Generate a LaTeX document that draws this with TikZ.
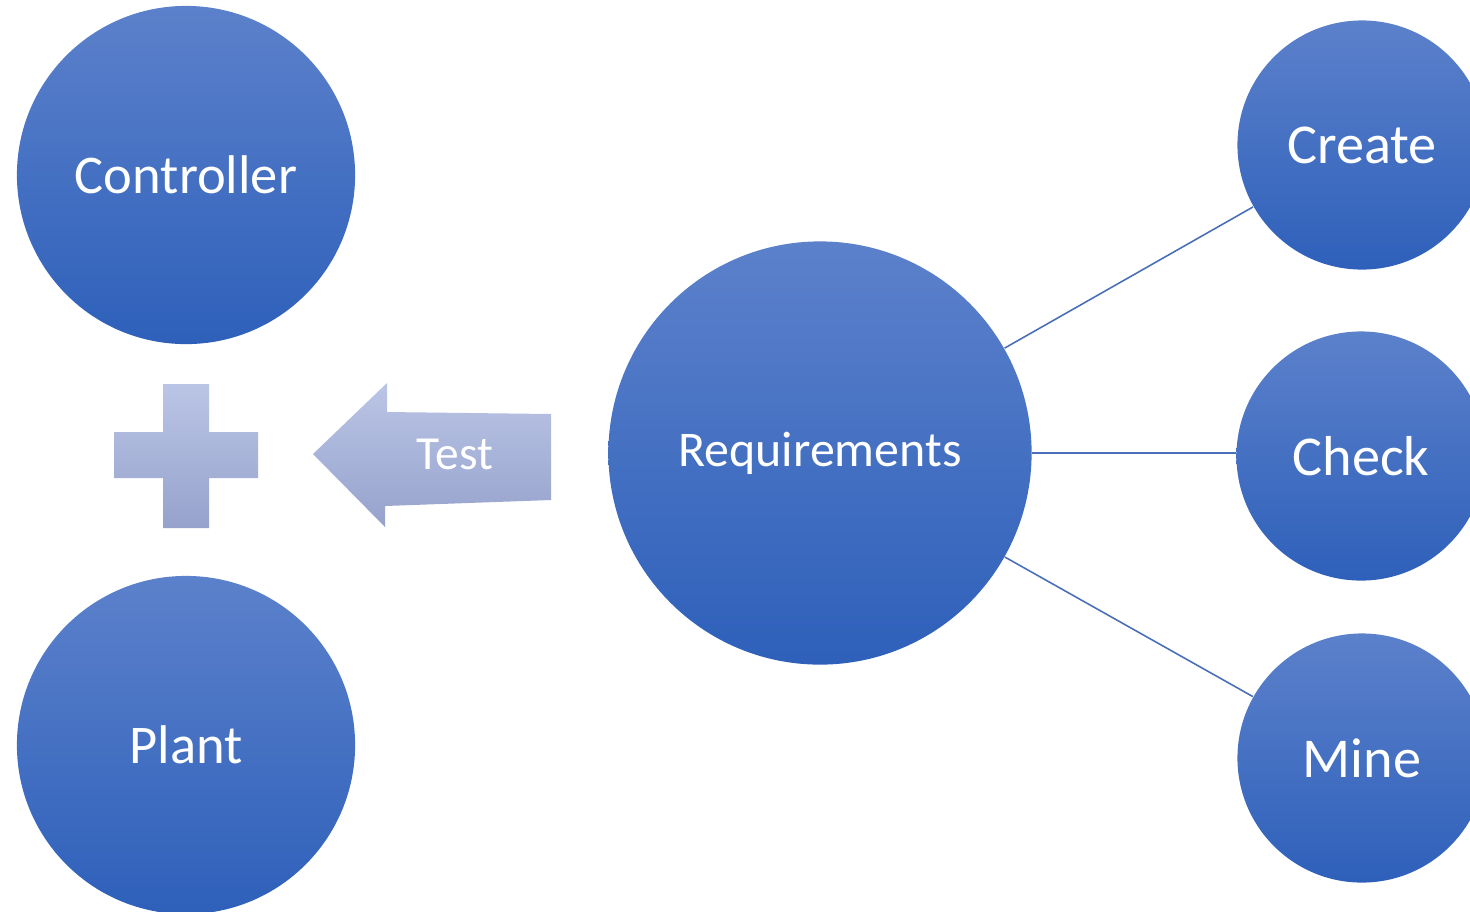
\documentclass[tikz,border=0pt]{standalone}
\usepackage{fontspec}
\setmainfont{Carlito}
\usepackage{tikz}
\usetikzlibrary{positioning}
\definecolor{blobtop}{HTML}{5C81CB}
\definecolor{blobbot}{HTML}{2E60BA}
\definecolor{palettop}{HTML}{BAC5E6}
\definecolor{palebot}{HTML}{96A2CC}
\definecolor{linkblue}{HTML}{4A6FB8}

\begin{document}
\begin{tikzpicture}[
x=0.01cm, y=-0.01cm,
blob/.style={circle, inner sep=0pt, top color=blobtop, bottom color=blobbot, draw=none, text=white},
big/.style={blob, minimum size=3.38cm, font=\fontsize{15.5}{18}\selectfont},
small/.style={blob, minimum size=2.49cm, font=\fontsize{16}{19}\selectfont},
link/.style={draw=linkblue, line width=0.45pt},
pale/.style={draw=none, top color=palettop, bottom color=palebot}
]
    \useasboundingbox (0,0) rectangle (1470,911);
    \clip (0,0) rectangle (1470,911);

    % Left side: the two parts under test
    \node[big] (ctrl) at (186,175) {Controller};
    \node[big] (plant) at (186,745) {Plant};

    % Plus sign between them
    \path[pale] (163,384) -- (209,384) -- (209,432) -- (258,432) -- (258,478)
        -- (209,478) -- (209,528) -- (163,528) -- (163,478) -- (114,478)
        -- (114,432) -- (163,432) -- cycle;

    % Block arrow pointing left
    \path[pale] (313,454) -- (387,383) -- (387,412) -- (551,414) -- (551,500)
        -- (385,506) -- (385,527) -- cycle;
    \node[text=white, font=\fontsize{13.5}{16}\selectfont] (test) at (455,454) {Test};

    % Requirements and its three branches
    \node[blob, minimum size=4.23cm, font=\fontsize{14.2}{17}\selectfont] (req) at (820,453) {Requirements};
    \node[small] (create) at (1362,145) {Create};
    \node[small] (check) at (1361,456) {Check};
    \node[small] (mine) at (1362,758) {Mine};

    \draw[link] (req) -- (create);
    \draw[link] (req.east) -- (req.east -| check.west);
    \draw[link] (req) -- (mine);
\end{tikzpicture}
\end{document}
